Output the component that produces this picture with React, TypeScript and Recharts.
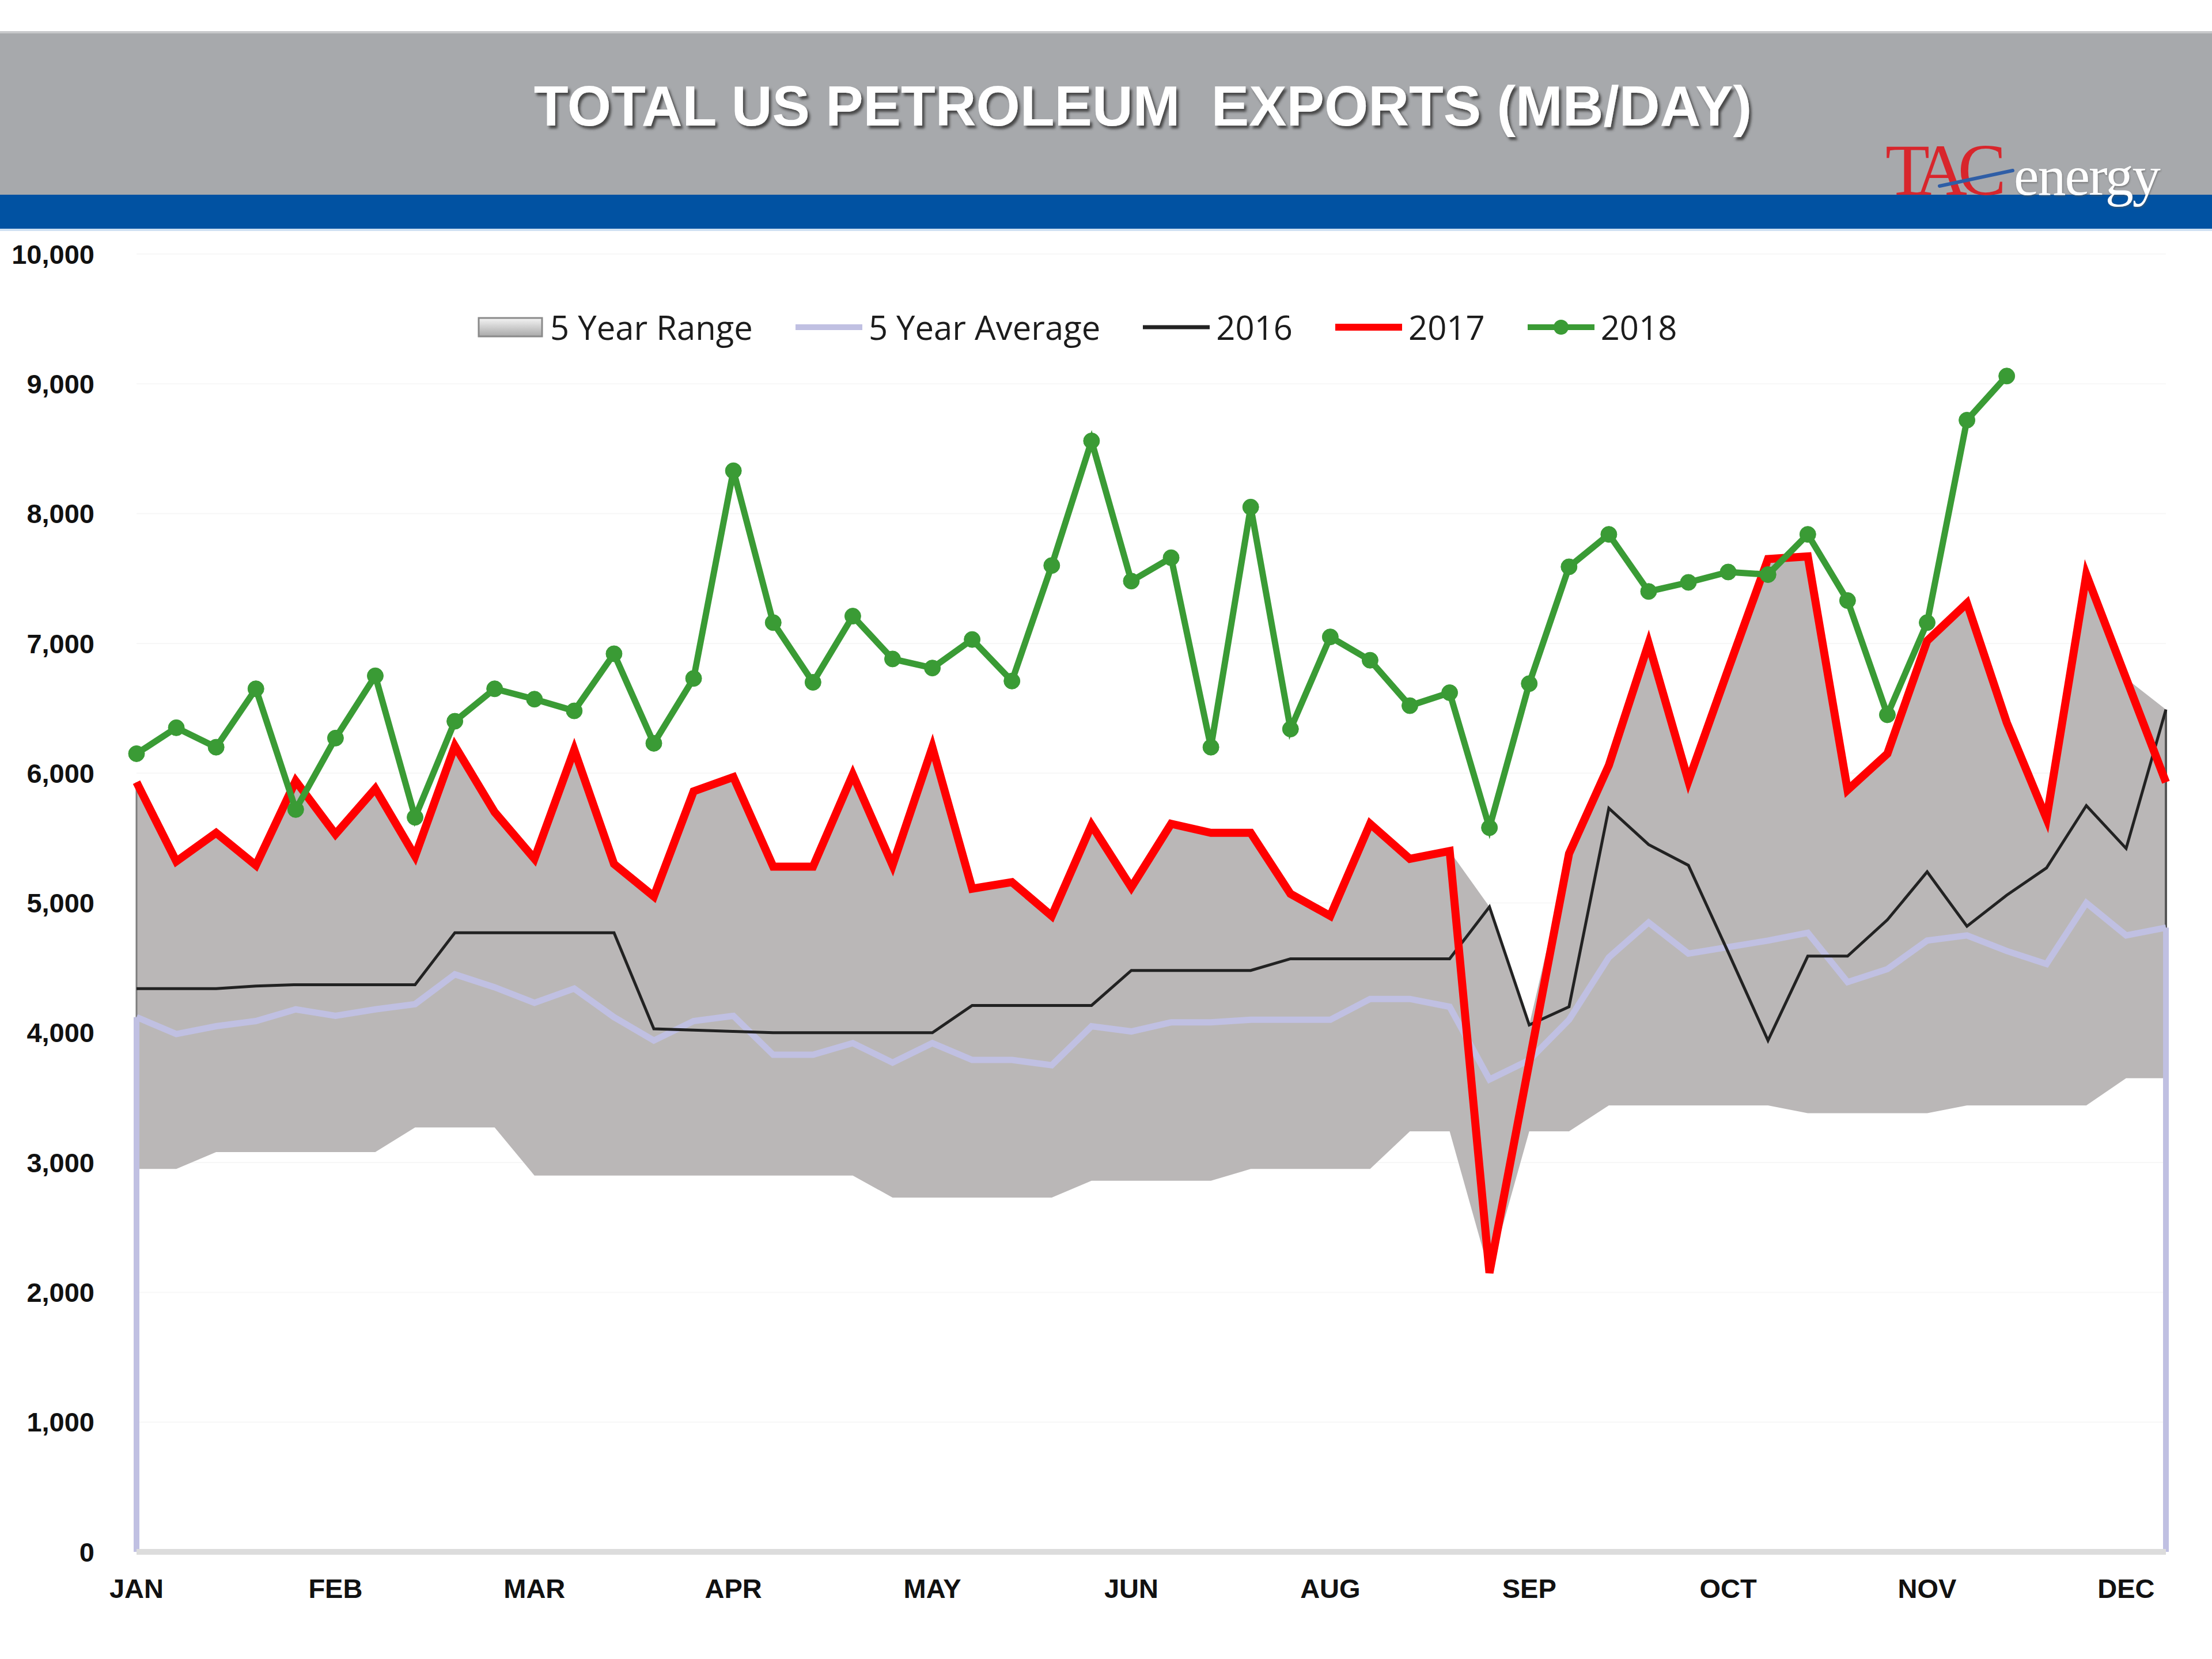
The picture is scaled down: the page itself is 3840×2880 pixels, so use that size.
import React from "react";
import {
  ComposedChart,
  Area,
  Line,
  XAxis,
  YAxis,
  CartesianGrid,
  Legend,
  ReferenceLine,
} from "recharts";

// weekly points, Jan -> Dec
const weeks = Array.from({ length: 52 }, (_, i) => i + 1);
const monthTicks = [1, 6, 11, 16, 21, 26, 31, 36, 41, 46, 51];
const monthLabels = ["JAN", "FEB", "MAR", "APR", "MAY", "JUN", "AUG", "SEP", "OCT", "NOV", "DEC"];
const yTicks = [0, 1000, 2000, 3000, 4000, 5000, 6000, 7000, 8000, 9000, 10000];

const rangeLow = [
  2950, 2950, 3080, 3080, 3080, 3080, 3080, 3270, 3270, 3270,
  2900, 2900, 2900, 2900, 2900, 2900, 2900, 2900, 2900, 2730,
  2730, 2730, 2730, 2730, 2860, 2860, 2860, 2860, 2950, 2950,
  2950, 2950, 3240, 3240, 2150, 3240, 3240, 3440, 3440, 3440,
  3440, 3440, 3380, 3380, 3380, 3380, 3440, 3440, 3440, 3440,
  3650, 3650,
];
const rangeHigh = [
  5930, 5320, 5540, 5290, 5940, 5530, 5880, 5360, 6210, 5700,
  5340, 6180, 5300, 5050, 5860, 5970, 5280, 5280, 5990, 5290,
  6200, 5110, 5160, 4900, 5600, 5120, 5610, 5540, 5540, 5070,
  4900, 5610, 5340, 5400, 4970, 4060, 5380, 6060, 7000, 5940,
  6800, 7650, 7670, 5870, 6150, 7020, 7310, 6390, 5650, 7530,
  6730, 6490,
];
const avg5 = [
  4120, 3990, 4050, 4090, 4180, 4130, 4180, 4220, 4450, 4350,
  4230, 4340, 4120, 3940, 4090, 4130, 3830, 3830, 3920, 3770,
  3920, 3790, 3790, 3750, 4050, 4010, 4080, 4080, 4100, 4100,
  4100, 4260, 4260, 4200, 3640, 3790, 4100, 4580, 4850, 4610,
  4660, 4710, 4770, 4390, 4490, 4710, 4750, 4630, 4530, 5000,
  4750, 4810,
];
const exports2016 = [
  4340, 4340, 4340, 4360, 4370, 4370, 4370, 4370, 4770, 4770,
  4770, 4770, 4770, 4030, 4020, 4010, 4000, 4000, 4000, 4000,
  4000, 4210, 4210, 4210, 4210, 4480, 4480, 4480, 4480, 4570,
  4570, 4570, 4570, 4570, 4970, 4060, 4200, 5730, 5450, 5290,
  4620, 3940, 4590, 4590, 4870, 5240, 4820, 5060, 5270, 5750,
  5420, 6490,
];
const exports2017 = [
  5930, 5320, 5540, 5290, 5940, 5530, 5880, 5360, 6210, 5700,
  5340, 6180, 5300, 5050, 5860, 5970, 5280, 5280, 5990, 5290,
  6200, 5110, 5160, 4900, 5600, 5120, 5610, 5540, 5540, 5070,
  4900, 5610, 5340, 5400, 2150, 3770, 5380, 6060, 7000, 5940,
  6800, 7650, 7670, 5870, 6150, 7020, 7310, 6390, 5650, 7530,
  6730, 5930,
];
const exports2018 = [
  6150, 6350, 6200, 6650, 5720, 6270, 6750, 5660, 6400, 6650,
  6570, 6480, 6920, 6230, 6730, 8330, 7160, 6700, 7210, 6880,
  6810, 7030, 6710, 7600, 8560, 7480, 7660, 6200, 8050, 6340,
  7050, 6870, 6520, 6620, 5580, 6690, 7590, 7840, 7400, 7470,
  7550, 7530, 7840, 7330, 6450, 7160, 8720, 9060,
];

const data = weeks.map((week, i) => ({
  week,
  range: [rangeLow[i], rangeHigh[i]],
  avg: avg5[i],
  y2016: exports2016[i],
  y2017: exports2017[i],
  y2018: i < exports2018.length ? exports2018[i] : null,
}));

const RANGE_FILL = "#bab7b7";
const AVG_COLOR = "#c0c0e2";
const COLOR_2016 = "#222222";
const COLOR_2017 = "#ff0000";
const COLOR_2018 = "#3a9b35";

const AXIS_FONT = "'Liberation Sans', Arial, sans-serif";
const tickStyle = { fontFamily: AXIS_FONT, fontSize: 47, fontWeight: 700, fill: "#111" };

const legendItems = [
  { label: "5 Year Range", kind: "range", color: RANGE_FILL, width: 0 },
  { label: "5 Year Average", kind: "line", color: AVG_COLOR, width: 10 },
  { label: "2016", kind: "line", color: COLOR_2016, width: 7 },
  { label: "2017", kind: "line", color: COLOR_2017, width: 12 },
  { label: "2018", kind: "dot", color: COLOR_2018, width: 10 },
];

const ChartLegend = () => (
  <div
    style={{
      display: "flex",
      alignItems: "center",
      fontFamily: "'Open Sans', sans-serif",
      fontSize: 58,
      color: "#1c1c1c",
      whiteSpace: "nowrap",
      lineHeight: "70px",
    }}
  >
    {legendItems.map((item) => (
      <div key={item.label} style={{ display: "flex", alignItems: "center", marginRight: 74 }}>
        <svg width={116} height={44} style={{ display: "block" }}>
          <defs>
            <linearGradient id="legendRange" x1="0" y1="0" x2="0" y2="1">
              <stop offset="0%" stopColor="#f4f4f4" />
              <stop offset="100%" stopColor="#a9a9a9" />
            </linearGradient>
          </defs>
          {item.kind === "range" ? (
            <rect x={3} y={6} width={110} height={32} fill="url(#legendRange)" stroke="#8a8a8a" strokeWidth={3} />
          ) : (
            <line x1={0} y1={22} x2={116} y2={22} stroke={item.color} strokeWidth={item.width} />
          )}
          {item.kind === "dot" && <circle cx={58} cy={22} r={13} fill={item.color} />}
        </svg>
        <span style={{ marginLeft: 11 }}>{item.label}</span>
      </div>
    ))}
  </div>
);

const Header = () => (
  <svg width={3840} height={420} style={{ position: "absolute", left: 0, top: 0 }}>
    <defs>
      <filter id="titleShadow" x="-5%" y="-30%" width="110%" height="160%">
        <feDropShadow dx="4" dy="5" stdDeviation="2" floodColor="#3c3c3c" floodOpacity="0.9" />
      </filter>
      <filter id="logoShadow" x="-5%" y="-30%" width="110%" height="160%">
        <feDropShadow dx="1" dy="2" stdDeviation="1.5" floodColor="#555" floodOpacity="0.6" />
      </filter>
    </defs>
    <rect x={0} y={54} width={3840} height={284} fill="#a7a9ac" />
    <rect x={0} y={54} width={3840} height={4} fill="#c8c9cb" />
    <rect x={0} y={338} width={3840} height={59} fill="#0152a2" />
    <rect x={0} y={397} width={3840} height={4} fill="#cfe0f2" />
    <text
      x={1984}
      y={218}
      textAnchor="middle"
      fill="#ffffff"
      filter="url(#titleShadow)"
      style={{ fontFamily: AXIS_FONT, fontSize: 98, fontWeight: 700, whiteSpace: "pre" }}
    >
      {"TOTAL US PETROLEUM  EXPORTS (MB/DAY)"}
    </text>
    <text
      x={3273}
      y={338}
      fill="#d8262c"
      style={{ fontFamily: "'Liberation Serif', serif", fontSize: 126, letterSpacing: -16 }}
    >
      TAC
    </text>
    <line x1={3367} y1={323} x2={3494} y2={296} stroke="#2f5ea6" strokeWidth={6} strokeLinecap="round" />
    <text
      x={3496}
      y={338}
      fill="#ffffff"
      filter="url(#logoShadow)"
      style={{ fontFamily: "'Liberation Serif', serif", fontSize: 98, letterSpacing: -2 }}
    >
      energy
    </text>
  </svg>
);

export default function App() {
  return (
    <div style={{ position: "absolute", left: 0, top: 0, width: 3840, height: 2880, background: "#ffffff" }}>
      <Header />
      <div style={{ position: "absolute", left: 0, top: 0 }}>
        <ComposedChart
          width={3840}
          height={2880}
          data={data}
          margin={{ top: 441, right: 80, bottom: 66, left: 0 }}
        >
          <CartesianGrid vertical={false} stroke="#f7f7f7" strokeWidth={2} />
          <XAxis
            dataKey="week"
            type="category"
            scale="point"
            padding={{ left: 0, right: 0 }}
            ticks={monthTicks}
            interval={0}
            tickFormatter={(w: number) => monthLabels[monthTicks.indexOf(w)] ?? ""}
            tickLine={false}
            tickSize={0}
            tickMargin={47}
            height={120}
            axisLine={{ stroke: "#dcdcdc", strokeWidth: 10 }}
            tick={tickStyle}
          />
          <YAxis
            type="number"
            domain={[0, 10000]}
            ticks={yTicks}
            interval={0}
            width={237}
            axisLine={false}
            tickLine={false}
            tickSize={0}
            tickMargin={73}
            tickFormatter={(v: number) => v.toLocaleString("en-US")}
            tick={tickStyle}
          />
          <Legend
            layout="horizontal"
            verticalAlign="middle"
            align="center"
            content={() => <ChartLegend />}
            wrapperStyle={{ left: 828, top: 533, width: 2500, height: 70 }}
          />
          <Area
            type="linear"
            dataKey="range"
            name="5 Year Range"
            fill={RANGE_FILL}
            fillOpacity={1}
            stroke="none"
            activeDot={false}
            isAnimationActive={false}
          />
          <ReferenceLine
            segment={[{ x: weeks[0], y: rangeLow[0] }, { x: weeks[0], y: rangeHigh[0] }]}
            stroke="#7d7d7d"
            strokeWidth={3}
          />
          <ReferenceLine
            segment={[{ x: weeks[51], y: rangeLow[51] }, { x: weeks[51], y: rangeHigh[51] }]}
            stroke="#555555"
            strokeWidth={4}
          />
          <ReferenceLine
            segment={[{ x: weeks[0], y: 0 }, { x: weeks[0], y: avg5[0] }]}
            stroke={AVG_COLOR}
            strokeWidth={10}
          />
          <ReferenceLine
            segment={[{ x: weeks[51], y: 0 }, { x: weeks[51], y: avg5[51] }]}
            stroke={AVG_COLOR}
            strokeWidth={10}
          />
          <Line
            type="linear"
            dataKey="avg"
            name="5 Year Average"
            stroke={AVG_COLOR}
            strokeWidth={11}
            dot={false}
            activeDot={false}
            isAnimationActive={false}
          />
          <Line
            type="linear"
            dataKey="y2016"
            name="2016"
            stroke={COLOR_2016}
            strokeWidth={5}
            dot={false}
            activeDot={false}
            isAnimationActive={false}
          />
          <Line
            type="linear"
            dataKey="y2017"
            name="2017"
            stroke={COLOR_2017}
            strokeWidth={14}
            dot={false}
            activeDot={false}
            isAnimationActive={false}
          />
          <Line
            type="linear"
            dataKey="y2018"
            name="2018"
            stroke={COLOR_2018}
            strokeWidth={11}
            dot={{ r: 14, fill: COLOR_2018, stroke: COLOR_2018, strokeWidth: 1 }}
            activeDot={false}
            isAnimationActive={false}
          />
        </ComposedChart>
      </div>
    </div>
  );
}
